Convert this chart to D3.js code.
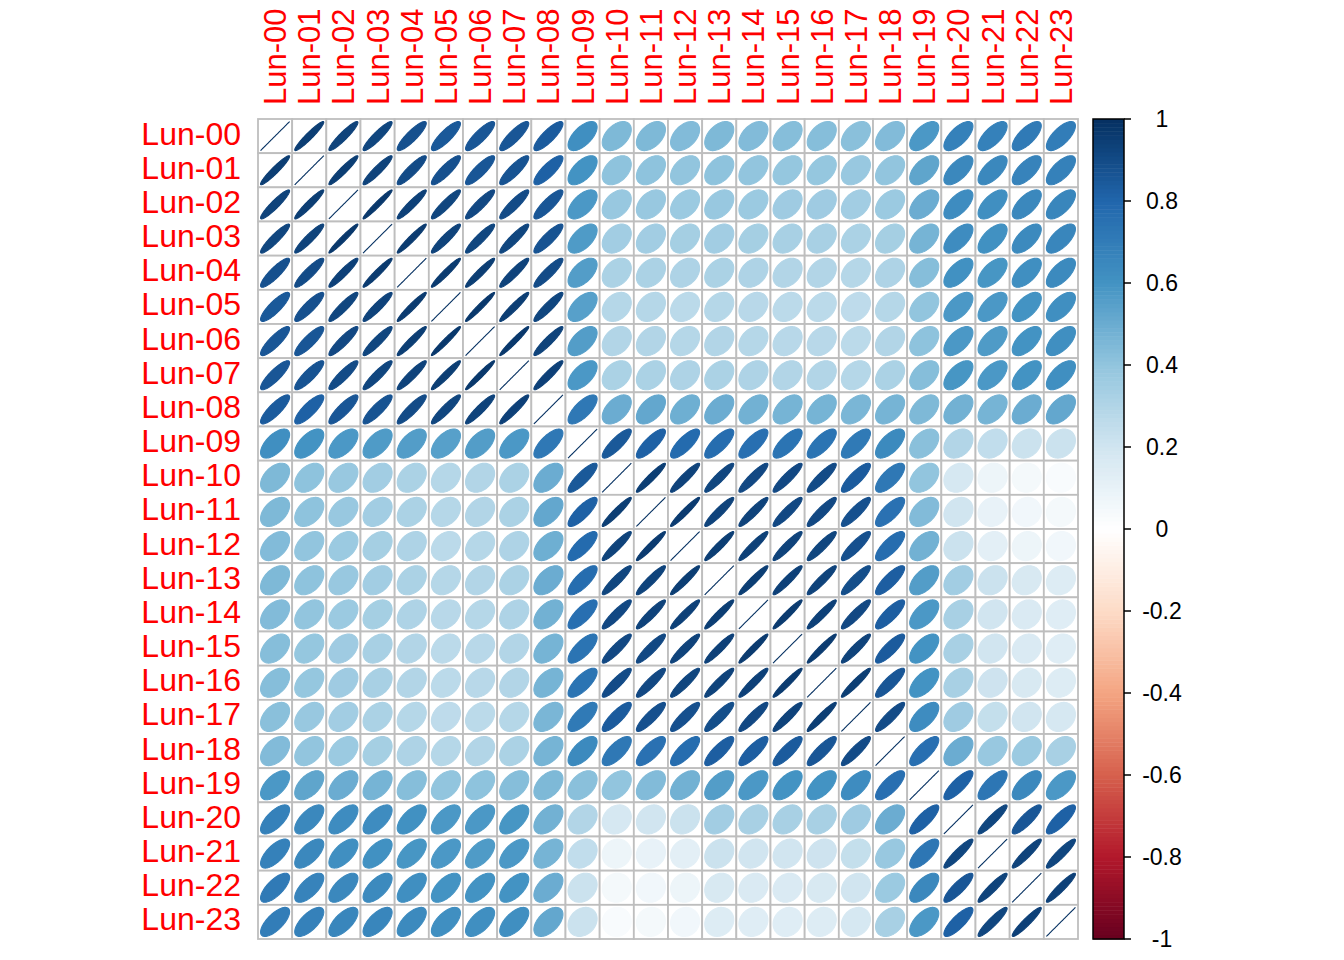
<!DOCTYPE html>
<html><head><meta charset="utf-8">
<script src="https://cdn.jsdelivr.net/npm/d3@7/dist/d3.min.js"></script>
<style>html,body{margin:0;padding:0;background:#fff;} svg{display:block} text{font-kerning:none;}</style>
</head><body>
<svg id="c" width="1344" height="960"></svg>
<script>
// ---------------- data ----------------
const labels = ["Lun-00","Lun-01","Lun-02","Lun-03","Lun-04","Lun-05","Lun-06","Lun-07","Lun-08","Lun-09",
  "Lun-10","Lun-11","Lun-12","Lun-13","Lun-14","Lun-15","Lun-16","Lun-17","Lun-18","Lun-19",
  "Lun-20","Lun-21","Lun-22","Lun-23"];

const corr = [
 [1, .95, .93, .92, .88, .85, .86, .86, .84, .62, .45, .45, .44, .45, .44, .43, .43, .42, .44, .58, .68, .68, .71, .70],
 [.95, 1, .95, .93, .90, .88, .86, .87, .82, .60, .41, .41, .40, .41, .40, .39, .39, .38, .40, .53, .65, .65, .67, .68],
 [.93, .95, 1, .97, .94, .92, .91, .90, .86, .58, .38, .38, .37, .38, .37, .36, .36, .35, .37, .50, .63, .62, .65, .66],
 [.92, .93, .97, 1, .96, .93, .92, .92, .87, .57, .35, .35, .34, .35, .34, .33, .33, .32, .34, .47, .63, .61, .64, .66],
 [.88, .90, .94, .96, 1, .96, .95, .93, .90, .56, .32, .32, .31, .32, .31, .30, .30, .29, .31, .43, .61, .59, .62, .64],
 [.85, .88, .92, .93, .96, 1, .97, .95, .92, .55, .29, .29, .27, .29, .28, .27, .27, .26, .29, .40, .58, .58, .60, .62],
 [.86, .86, .91, .92, .95, .97, 1, .97, .93, .56, .30, .30, .29, .30, .29, .28, .28, .27, .30, .41, .58, .57, .60, .62],
 [.86, .87, .90, .92, .93, .95, .97, 1, .94, .58, .32, .32, .31, .32, .31, .30, .30, .29, .32, .43, .59, .58, .60, .62],
 [.84, .82, .86, .87, .90, .92, .93, .94, 1, .72, .50, .52, .49, .50, .48, .47, .47, .46, .47, .45, .48, .47, .50, .52],
 [.62, .60, .58, .57, .56, .55, .56, .58, .72, 1, .85, .82, .78, .77, .76, .74, .74, .71, .64, .42, .30, .25, .22, .22],
 [.45, .41, .38, .35, .32, .29, .30, .32, .50, .85, 1, .95, .93, .92, .91, .91, .90, .84, .72, .40, .18, .08, .05, .03],
 [.45, .41, .38, .35, .32, .29, .30, .32, .52, .82, .95, 1, .96, .93, .93, .91, .91, .88, .75, .44, .20, .10, .06, .05],
 [.44, .40, .37, .34, .31, .27, .29, .31, .49, .78, .93, .96, 1, .95, .94, .93, .92, .88, .77, .48, .22, .12, .08, .06],
 [.45, .41, .38, .35, .32, .29, .30, .32, .50, .77, .92, .93, .95, 1, .95, .94, .93, .89, .83, .56, .35, .22, .17, .15],
 [.44, .40, .37, .34, .31, .28, .29, .31, .48, .76, .91, .93, .94, .95, 1, .96, .94, .91, .83, .58, .33, .20, .16, .14],
 [.43, .39, .36, .33, .30, .27, .28, .30, .47, .74, .91, .91, .93, .94, .96, 1, .96, .93, .84, .60, .33, .20, .16, .14],
 [.43, .39, .36, .33, .30, .27, .28, .30, .47, .74, .90, .91, .92, .93, .94, .96, 1, .95, .86, .60, .33, .21, .17, .15],
 [.42, .38, .35, .32, .29, .26, .27, .29, .46, .71, .84, .88, .88, .89, .91, .93, .95, 1, .90, .63, .36, .24, .20, .18],
 [.44, .40, .37, .34, .31, .29, .30, .32, .47, .64, .72, .75, .77, .83, .83, .84, .86, .90, 1, .76, .50, .38, .37, .33],
 [.58, .53, .50, .47, .43, .40, .41, .43, .45, .42, .40, .44, .48, .56, .58, .60, .60, .63, .76, 1, .82, .73, .65, .58],
 [.68, .65, .63, .63, .61, .58, .58, .59, .48, .30, .18, .20, .22, .35, .33, .33, .33, .36, .50, .82, 1, .92, .86, .82],
 [.68, .65, .62, .61, .59, .58, .57, .58, .47, .25, .08, .10, .12, .22, .20, .20, .21, .24, .38, .73, .92, 1, .93, .92],
 [.71, .67, .65, .64, .62, .60, .60, .60, .50, .22, .05, .06, .08, .17, .16, .16, .17, .20, .37, .65, .86, .93, 1, .94],
 [.70, .68, .66, .66, .64, .62, .62, .62, .52, .22, .03, .05, .06, .15, .14, .14, .15, .18, .33, .58, .82, .92, .94, 1]
];

const legendTicks = [1, 0.8, 0.6, 0.4, 0.2, 0, -0.2, -0.4, -0.6, -0.8, -1];
const legendTickLabels = ["1","0.8","0.6","0.4","0.2","0","-0.2","-0.4","-0.6","-0.8","-1"];
const paletteStops = ["#67001F","#B2182B","#D6604D","#F4A582","#FDDBC7","#FFFFFF","#D1E5F0","#92C5DE","#4393C3","#2166AC","#053061"];
const paletteDomain = [-1,-0.8,-0.6,-0.4,-0.2,0,0.2,0.4,0.6,0.8,1];

// ---------------- drawing ----------------
const FONT = "'Liberation Sans', Arial, Helvetica, sans-serif";
const svg = d3.select("#c");

const x = d3.scaleBand().domain(labels).range([258, 1078]);
const y = d3.scaleBand().domain(labels).range([119, 939]);
const color = d3.scaleLinear().domain(paletteDomain).range(paletteStops).interpolate(d3.interpolateRgb).clamp(true);

const cells = [];
labels.forEach((r, i) => labels.forEach((c, j) => cells.push({row: r, col: c, v: corr[i][j]})));

// grid cells
const bw = x.bandwidth();
svg.append("g").selectAll("rect").data(cells).join("rect")
  .attr("x", d => x(d.col)).attr("y", d => y(d.row))
  .attr("width", bw).attr("height", y.bandwidth())
  .attr("fill", "#fff").attr("stroke", "#BEBEBE").attr("stroke-width", 1.8);

// ellipses (corrplot style)
const line = d3.line().curve(d3.curveLinearClosed);
function ellipse(d) {
  const cx = x(d.col) + bw / 2, cy = y(d.row) + y.bandwidth() / 2;
  const a = Math.acos(Math.max(-1, Math.min(1, d.v)));
  const pts = d3.range(0, 99).map(t => {
    const k = t / 98 * 2 * Math.PI;
    return [cx + bw * 0.85 * Math.cos(k + a / 2) / 2,
            cy - y.bandwidth() * 0.85 * Math.cos(k - a / 2) / 2];
  });
  return line(pts);
}
svg.append("g").selectAll("path").data(cells).join("path")
  .attr("d", ellipse)
  .attr("fill", d => color(d.v))
  .attr("stroke", d => color(d.v))
  .attr("stroke-width", 1.1);

// row labels
svg.append("g").selectAll("text").data(labels).join("text")
  .attr("x", 241).attr("y", d => y(d) + y.bandwidth() / 2 + 8.5)
  .attr("text-anchor", "end")
  .attr("font-family", FONT).attr("font-size", 32).attr("fill", "#FF0000")
  .text(d => d);

// column labels
svg.append("g").selectAll("text").data(labels).join("text")
  .attr("transform", d => `translate(${x(d) + bw / 2 + 11},105) rotate(-90)`)
  .attr("text-anchor", "start")
  .attr("font-family", FONT).attr("font-size", 31).attr("fill", "#FF0000")
  .text(d => d);

// colour legend
const ly = d3.scaleLinear().domain([-1, 1]).range([939, 119]);
const nSteps = 200;
const steps = d3.range(nSteps).map(i => -1 + (i + 0.5) * 2 / nSteps);
svg.append("g").selectAll("rect").data(steps).join("rect")
  .attr("x", 1093).attr("width", 31)
  .attr("y", d => ly(d + 1 / nSteps))
  .attr("height", d => ly(d - 1 / nSteps) - ly(d + 1 / nSteps) + 0.5)
  .attr("fill", d => color(d));
svg.append("rect").attr("x", 1093).attr("y", ly(1)).attr("width", 31).attr("height", ly(-1) - ly(1))
  .attr("fill", "none").attr("stroke", "#000").attr("stroke-width", 1.5);
const tickG = svg.append("g");
tickG.selectAll("line").data(legendTicks).join("line")
  .attr("x1", 1124).attr("x2", 1131)
  .attr("y1", d => ly(d)).attr("y2", d => ly(d))
  .attr("stroke", "#000").attr("stroke-width", 1.5);
tickG.selectAll("text").data(legendTicks).join("text")
  .attr("x", 1162).attr("y", d => ly(d) + 8.3)
  .attr("text-anchor", "middle")
  .attr("font-family", FONT).attr("font-size", 23).attr("fill", "#000")
  .text((d, i) => legendTickLabels[i]);
</script>
</body></html>
